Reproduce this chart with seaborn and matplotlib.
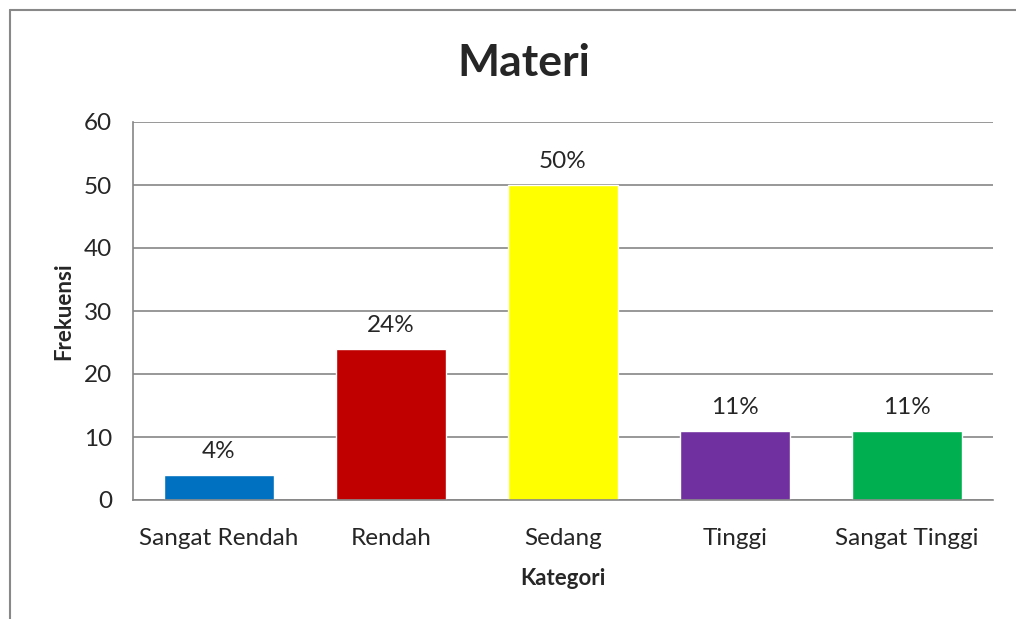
import pandas as pd
import seaborn as sns
import matplotlib.pyplot as plt
from matplotlib.lines import Line2D

kategori = ["Sangat Rendah", "Rendah", "Sedang", "Tinggi", "Sangat Tinggi"]
frekuensi = [4, 24, 50, 11, 11]
persen = ["4%", "24%", "50%", "11%", "11%"]
warna = ["#0070C0", "#C00000", "#FFFF00", "#7030A0", "#00B050"]

df = pd.DataFrame({"Kategori": kategori, "Frekuensi": frekuensi})

sns.set_style("white")
plt.rcParams['font.family'] = ['Lato', 'DejaVu Sans']

fig = plt.figure(figsize=(10.16, 6.19), dpi=100)
ax = fig.add_axes([133 / 1016, 1 - 500 / 619, 860 / 1016, 378 / 619])

sns.barplot(data=df, x="Kategori", y="Frekuensi", hue="Kategori",
            palette=warna, width=0.645, saturation=1, legend=False, ax=ax)

ax.set_ylim(0, 60)
ax.set_yticks(range(0, 61, 10))
ax.yaxis.grid(True, color="#868686", linewidth=1.2)
ax.set_axisbelow(True)
for s in ["top", "right"]:
    ax.spines[s].set_visible(False)
for s in ["left", "bottom"]:
    ax.spines[s].set_color("#868686")
    ax.spines[s].set_linewidth(1.2)
ax.tick_params(axis="both", length=0, labelsize=17.5)
ax.tick_params(axis="x", pad=20)
ax.tick_params(axis="y", pad=15)

for i, (v, p) in enumerate(zip(frekuensi, persen)):
    ax.text(i, v + 2.0, p, ha="center", va="bottom", fontsize=17.5)

ax.set_xlabel("Kategori", fontsize=16, fontweight="bold", labelpad=14)
ax.set_ylabel("Frekuensi", fontsize=16, fontweight="bold", labelpad=7)
fig.text(0.5153, 1 - 63 / 619, "Materi", ha="center", va="center",
         fontsize=32, fontweight="bold")

# outer chart frame: only left and top edges are inside the picture
fig.add_artist(Line2D([10 / 1016, 10 / 1016], [0, 1 - 10 / 619],
                      transform=fig.transFigure, color="#888888", linewidth=1.5))
fig.add_artist(Line2D([10 / 1016, 1.05], [1 - 10 / 619, 1 - 10 / 619],
                      transform=fig.transFigure, color="#888888", linewidth=1.5))

plt.savefig("out.png", dpi=100)
plt.close()
